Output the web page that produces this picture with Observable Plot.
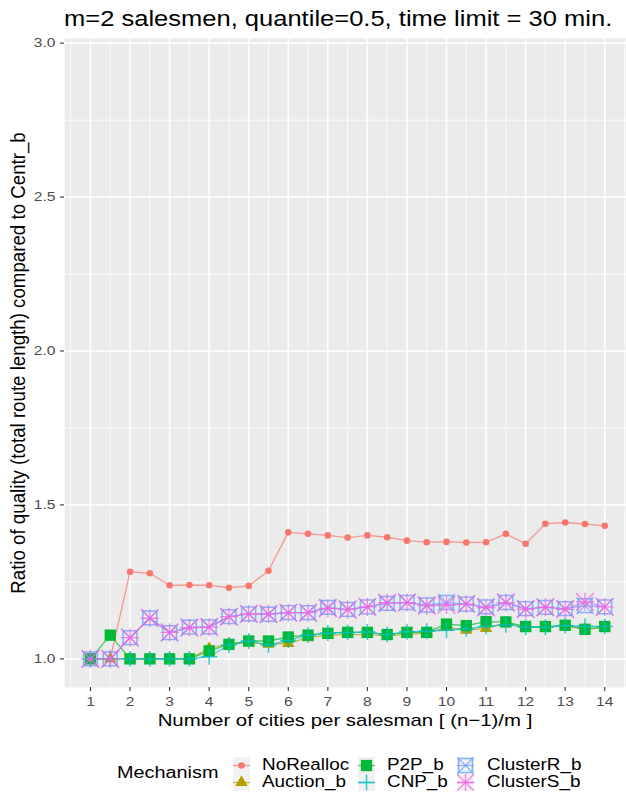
<!DOCTYPE html>
<html><head><meta charset="utf-8">
<script src="https://cdn.jsdelivr.net/npm/d3@7"></script>
<script src="https://cdn.jsdelivr.net/npm/@observablehq/plot@0.6"></script>
<style>
html,body{margin:0;padding:0;background:#fff;}
#wrap{position:relative;width:626px;height:794px;overflow:hidden;font-family:"Liberation Sans",Arial,Helvetica,sans-serif;color:#000;}
.t{position:absolute;white-space:nowrap;line-height:1;}
#chart{position:absolute;left:0;top:33px;}
</style></head><body><div id="wrap"></div>
<script>
// ---- data ----
const xs = [1,1.5,2,2.5,3,3.5,4,4.5,5,5.5,6,6.5,7,7.5,8,8.5,9,9.5,10,10.5,11,11.5,12,12.5,13,13.5,14];
const seriesNames = ["NoRealloc","Auction_b","P2P_b","CNP_b","ClusterR_b","ClusterS_b"];
const noRealloc = [1.0,1.0,1.283,1.278,1.239,1.240,1.239,1.231,1.237,1.286,1.411,1.406,1.401,1.394,1.401,1.395,1.384,1.379,1.380,1.378,1.379,1.406,1.374,1.439,1.443,1.438,1.432];
const auctionB = [1.0,1.0,1.0,1.0,1.0,1.0,1.034,1.049,1.052,1.048,1.050,1.069,1.076,1.079,1.079,1.075,1.080,1.084,1.102,1.093,1.099,1.117,1.102,1.102,1.108,1.096,1.102];
const p2pB = [1.0,1.077,1.0,1.0,1.0,1.0,1.026,1.047,1.058,1.058,1.071,1.077,1.083,1.086,1.086,1.079,1.086,1.086,1.113,1.108,1.121,1.120,1.105,1.105,1.109,1.096,1.105];
const cnpB = [1.0,1.0,1.0,1.0,1.0,1.0,1.007,1.045,1.058,1.045,1.060,1.077,1.084,1.086,1.087,1.079,1.088,1.090,1.093,1.098,1.105,1.111,1.103,1.103,1.108,1.106,1.105];
const clusterRB = [1.0,1.0,1.069,1.133,1.085,1.103,1.104,1.137,1.146,1.145,1.150,1.150,1.167,1.161,1.169,1.180,1.183,1.175,1.183,1.178,1.169,1.183,1.163,1.167,1.163,1.173,1.169];
const clusterSB = [1.0,1.0,1.069,1.132,1.086,1.101,1.103,1.137,1.146,1.146,1.150,1.150,1.164,1.160,1.169,1.183,1.183,1.172,1.175,1.178,1.166,1.183,1.161,1.168,1.161,1.185,1.169];
const xTicks = [1,2,3,4,5,6,7,8,9,10,11,12,13,14];
const xMinor = [0.5,1.5,2.5,3.5,4.5,5.5,6.5,7.5,8.5,9.5,10.5,11.5,12.5,13.5,14.5];
const yTicks = [1.0,1.5,2.0,2.5,3.0];
const yMinor = [1.25,1.75,2.25,2.75];
const titleText = "m=2 salesmen, quantile=0.5, time limit = 30 min.";
const xTitle = "Number of cities per salesman [ (n\u22121)/m ]";
const yTitle = "Ratio of quality (total route length) compared to Centr_b";
const legendTitle = "Mechanism";

// ---- styling ----
const colors = ["#F8766D","#B79F00","#00BA38","#00BFC4","#619CFF","#F564E3"];
const valuesList = [noRealloc, auctionB, p2pB, cnpB, clusterRB, clusterSB];
const rows = seriesNames.flatMap((name, s) => xs.map((x, i) => ({x, y: valuesList[s][i], name})));
const bySeries = name => rows.filter(d => d.name === name);

const glyphs = [
  [{symbol:"circle", r:3.3, fill:colors[0], op:1}],
  [{symbol:"triangle", r:4.6, fill:colors[1], op:1}],
  [{symbol:"square", r:6.4, fill:colors[2], op:1}],
  [{symbol:"plus", r:5.2, stroke:colors[3], sw:1.5, op:0.8}],
  [{symbol:"square", r:7.8, stroke:colors[4], sw:1.5, op:0.75},{symbol:"times", r:7.8, stroke:colors[4], sw:1.3, op:0.75}],
  [{symbol:"plus", r:5.9, stroke:colors[5], sw:1.3, op:0.8},{symbol:"times", r:8.1, stroke:colors[5], sw:1.3, op:0.8}]
];

const lineMarks = seriesNames.map((name, s) =>
  Plot.line(bySeries(name), {x:"x", y:"y", stroke: colors[s], strokeWidth:1.3, strokeOpacity:0.7}));
const dotMarks = seriesNames.flatMap((name, s) => glyphs[s].map(g =>
  Plot.dot(bySeries(name), {x:"x", y:"y", symbol: g.symbol, r: g.r,
    fill: g.fill ? g.fill : "none", stroke: g.stroke ? g.stroke : "none",
    strokeWidth: g.sw || 0, fillOpacity: g.op, strokeOpacity: g.op})));

const chart = Plot.plot({
  width: 626, height: 702,
  marginTop: 5, marginLeft: 64, marginRight: 0, marginBottom: 48,
  x: {type:"linear", domain:[0.343, 14.55]},
  y: {type:"linear", domain:[0.907, 3.015]},
  style: {background:"transparent", fontFamily:"'Liberation Sans', Arial, Helvetica, sans-serif", overflow:"visible"},
  marks: [
    Plot.frame({fill:"#EBEBEB", stroke:"none"}),
    Plot.gridX(xMinor, {stroke:"#fff", strokeOpacity:1, strokeWidth:0.8}),
    Plot.gridY(yMinor, {stroke:"#fff", strokeOpacity:1, strokeWidth:0.8}),
    Plot.gridX(xTicks, {stroke:"#fff", strokeOpacity:1, strokeWidth:1.6}),
    Plot.gridY(yTicks, {stroke:"#fff", strokeOpacity:1, strokeWidth:1.6}),
    Plot.axisX(xTicks, {tickSize:4, tickPadding:5, fontSize:13, stroke:"#333", fill:"#4D4D4D", strokeWidth:1.1, label:null}),
    Plot.axisY(yTicks, {tickSize:4, tickPadding:5, fontSize:13, stroke:"#333", fill:"#4D4D4D", strokeWidth:1.1, tickFormat:d3.format(".1f"), label:null}),
    ...lineMarks,
    ...dotMarks
  ]
});
chart.id = "chart";
const wrap = document.getElementById("wrap");
wrap.appendChild(chart);

// widen tick labels horizontally to match the reference's stretched glyphs
const SX = 1.2;
chart.querySelectorAll("text").forEach(t => {
  const tr = t.getAttribute("transform");
  if (tr) t.setAttribute("transform", tr + ` scale(${SX},1)`);
  else {
    const x = +t.getAttribute("x") || 0, y = +t.getAttribute("y") || 0;
    t.setAttribute("transform", `translate(${x},${y}) scale(${SX},1) translate(${-x},${-y})`);
  }
});

function addText(txt, left, baseline, fs, sx, extra) {
  const d = document.createElement("div");
  d.className = "t";
  d.textContent = txt;
  d.style.fontSize = fs + "px";
  d.style.left = left + "px";
  d.style.top = (baseline - 0.8465 * fs) + "px";
  d.style.transformOrigin = "0 50%";
  d.style.transform = `scaleX(${sx})`;
  if (extra) Object.assign(d.style, extra);
  wrap.appendChild(d);
  return d;
}
// title
addText(titleText, 64, 26.6, 22, 1.16);
// x title
addText(xTitle, 345, 726, 17, 1.2, {transformOrigin:"50% 50%", transform:"translateX(-50%) scaleX(1.2)"});
// y title (rotated)
const yt = document.createElement("div");
yt.className = "t"; yt.textContent = yTitle;
Object.assign(yt.style, {fontSize:"17px", left:"19px", top:"362.5px", transform:"translate(-50%,-50%) rotate(-90deg) scale(1.1,1.15)"});
wrap.appendChild(yt);

// legend
addText(legendTitle, 117, 778.3, 16, 1.24);
const keyX = [233, 358, 457], labelX = [262, 387, 487], rowTop = [756.5, 773.5], K = 17;
const symMap = {circle:d3.symbolCircle, triangle:d3.symbolTriangle, square:d3.symbolSquare, plus:d3.symbolPlus, times:d3.symbolTimes};
seriesNames.forEach((name, s) => {
  const col = Math.floor(s / 2), row = s % 2;
  const svg = d3.create("svg").attr("width", K).attr("height", K)
    .style("position","absolute").style("left", keyX[col]+"px").style("top", rowTop[row]+"px");
  svg.append("rect").attr("width", K).attr("height", K).attr("fill", "#F2F2F2");
  svg.append("line").attr("x1",0).attr("x2",K).attr("y1",K/2).attr("y2",K/2)
    .attr("stroke", colors[s]).attr("stroke-width",1.3).attr("stroke-opacity",0.7);
  glyphs[s].forEach(g => {
    svg.append("path").attr("transform", `translate(${K/2},${K/2})`)
      .attr("d", d3.symbol(symMap[g.symbol], g.r*g.r*Math.PI)())
      .attr("fill", g.fill || "none").attr("stroke", g.stroke || "none")
      .attr("stroke-width", g.sw || 0).attr("fill-opacity", g.op).attr("stroke-opacity", g.op);
  });
  wrap.appendChild(svg.node());
  addText(name, labelX[col], rowTop[row] + K/2 + 5.7, 16, 1.18);
});
</script></body></html>
